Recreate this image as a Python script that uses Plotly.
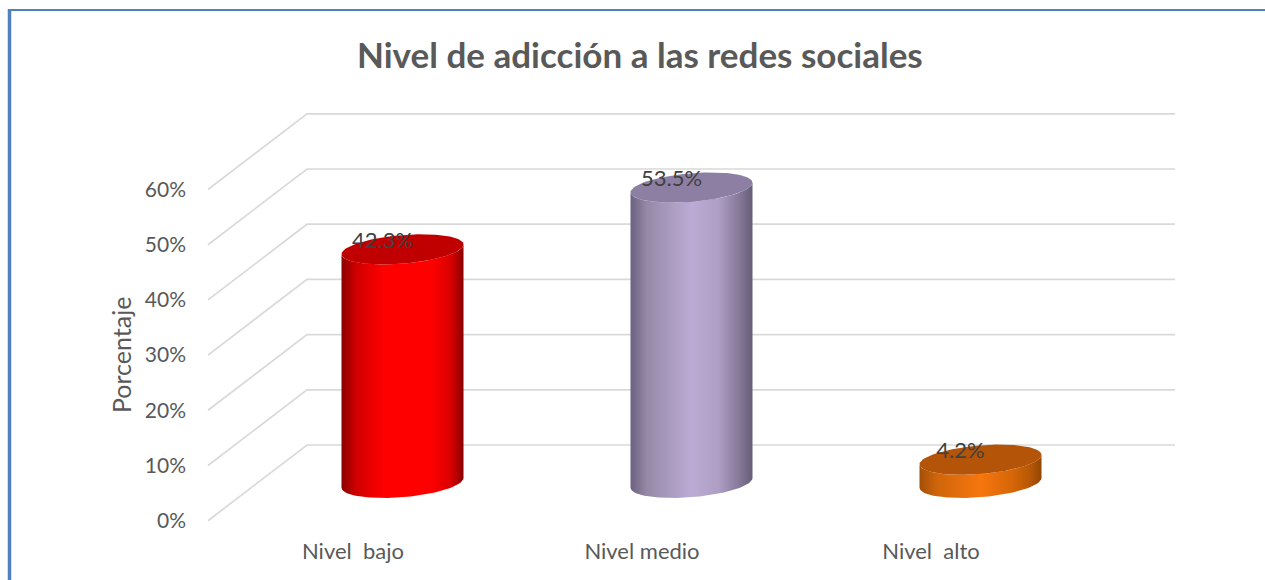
import numpy as np
import plotly.graph_objects as go

categories = ["Nivel\u00a0 bajo", "Nivel medio", "Nivel\u00a0 alto"]
values = [42.3, 53.5, 4.2]
labels = ["42.3%", "53.5%", "4.2%"]
y_ticks = [0, 10, 20, 30, 40, 50, 60]
y_tick_text = ["0%", "10%", "20%", "30%", "40%", "50%", "60%"]
body_scales = [
    [[0, "#8a0000"], [0.12, "#d00000"], [0.35, "#ff0000"], [0.74, "#ff0000"], [0.9, "#d80000"], [1, "#8a0000"]],
    [[0, "#6b6180"], [0.14, "#968aa8"], [0.5, "#bcabd4"], [0.72, "#ae9ec4"], [0.88, "#887b9c"], [1, "#675d78"]],
    [[0, "#a34e06"], [0.14, "#cf650a"], [0.5, "#f7760e"], [0.75, "#d86708"], [0.9, "#b85806"], [1, "#934604"]],
]
top_colors = ["#c00000", "#8d7fa3", "#b35408"]

# pixel geometry of the 3D projection
PX_X = 289.0
PX_Y = 5.52
X0 = 353.0
Y0 = 520.7
L, R, T, B = 190, 1265, 0, 535
depth_x = 99 / PX_X
depth_y = 75.7 / PX_Y
front_x = (208 - X0) / PX_X
end_x = (1175 - X0) / PX_X
half_w = 61 / PX_X
ell_b = 14.3 / PX_Y
ell_tilt = 4.8 / PX_Y

fig = go.Figure()

for v in y_ticks:
    fig.add_trace(go.Scatter(
        x=[front_x, front_x + depth_x, end_x],
        y=[v, v + depth_y, v + depth_y],
        mode="lines", line=dict(color="#d9d9d9", width=1.7),
        hoverinfo="skip", showlegend=False))


def ellipse(cx, cy, t):
    return cx + half_w * np.cos(t), cy + ell_tilt * np.cos(t) + ell_b * np.sin(t)


lower = np.linspace(np.pi, 2 * np.pi, 60)
whole = np.linspace(0, 2 * np.pi, 120)
base = depth_y / 2
for i, val in enumerate(values):
    cx = i + depth_x / 2
    top = base + val
    bx, by = ellipse(cx, base, lower)
    tx, ty = ellipse(cx, top, lower[::-1])
    fig.add_trace(go.Scatter(
        x=np.concatenate([bx, tx]), y=np.concatenate([by, ty]),
        mode="lines", line=dict(width=0), fill="toself",
        fillgradient=dict(type="horizontal", colorscale=body_scales[i]),
        hoverinfo="skip", showlegend=False))
    ex, ey = ellipse(cx, top, whole)
    fig.add_trace(go.Scatter(
        x=ex, y=ey, mode="lines", line=dict(width=0), fill="toself",
        fillcolor=top_colors[i], hoverinfo="skip", showlegend=False))
    fig.add_trace(go.Scatter(
        x=[cx - 20 / PX_X], y=[top + 1.3], mode="text", text=[labels[i]],
        textposition="middle center",
        textfont=dict(family="Lato", size=22, color="#404040"),
        hoverinfo="skip", showlegend=False))

W, H = R - L, B - T
left_px = 9.5
top_px = 10
fig.update_layout(
    width=1265, height=580,
    margin=dict(l=L, r=1265 - R, t=T, b=580 - B, autoexpand=False),
    paper_bgcolor="white", plot_bgcolor="white",
    showlegend=False,
    font=dict(family="Lato", color="#595959"),
    annotations=[
        dict(text="<b>Nivel de adicción a las redes sociales</b>",
             xref="paper", yref="paper",
             x=(640 - L) / W, y=1 - 54 / H,
             showarrow=False, xanchor="center", yanchor="middle",
             font=dict(family="Lato", size=35, color="#595959")),
        dict(text="Porcentaje", xref="paper", yref="paper",
             x=(121 - L) / W, y=1 - 355 / H, textangle=-90,
             showarrow=False, xanchor="center", yanchor="middle",
             font=dict(family="Lato", size=25, color="#595959")),
    ],
    shapes=[
        dict(type="line", xref="paper", yref="paper",
             x0=(left_px - L) / W, x1=(left_px - L) / W,
             y0=1 - 9 / H, y1=1 - 580 / H,
             line=dict(color="#4f81bd", width=3.5)),
        dict(type="line", xref="paper", yref="paper",
             x0=(left_px - L) / W, x1=1,
             y0=1 - top_px / H, y1=1 - top_px / H,
             line=dict(color="#4f81bd", width=2.2)),
    ],
    xaxis=dict(
        range=[(L - X0) / PX_X, (R - X0) / PX_X],
        tickvals=[0, 1, 2], ticktext=categories,
        showgrid=False, zeroline=False, showline=False, ticks="",
        ticklabelstandoff=1,
        tickfont=dict(family="Lato", size=22, color="#595959"),
        automargin=False),
    yaxis=dict(
        range=[(Y0 - B) / PX_Y, (Y0 - T) / PX_Y],
        tickvals=y_ticks, ticktext=y_tick_text,
        showgrid=False, zeroline=False, showline=False, ticks="",
        ticklabelstandoff=3,
        tickfont=dict(family="Lato", size=21, color="#595959"),
        automargin=False),
)

fig.write_html("out.html", config={"displayModeBar": False},
               post_script="document.body.style.margin='0';")
